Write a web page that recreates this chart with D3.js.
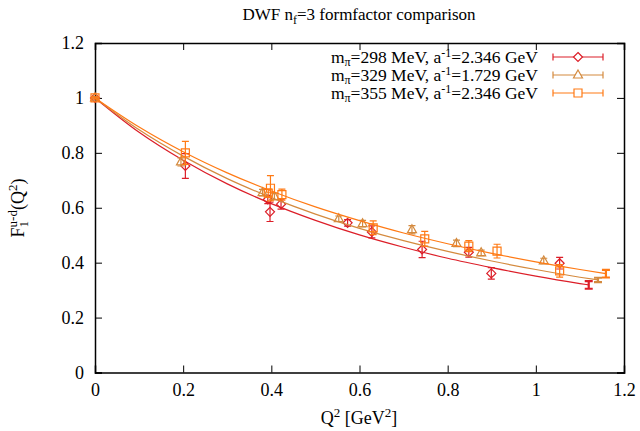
<!DOCTYPE html>
<html>
<head>
<meta charset="utf-8">
<title>DWF formfactor</title>
<script src="https://cdn.jsdelivr.net/npm/d3@7/dist/d3.min.js"></script>
<style>
  body { margin: 0; background: #fff; }
  text { font-family: "Liberation Serif", "Times New Roman", serif; fill: #000; }
</style>
</head>
<body>
<svg width="640" height="431"></svg>
<script>
// ---- data ----
var q2_298  = [0, 0.205, 0.392, 0.397, 0.422, 0.573, 0.628, 0.742, 0.848, 0.899, 1.054];
var ff_298  = [1.0, 0.752, 0.630, 0.585, 0.613, 0.545, 0.512, 0.448, 0.438, 0.361, 0.398];
var err_298 = [0.004, 0.045, 0.015, 0.035, 0.018, 0.012, 0.022, 0.030, 0.018, 0.021, 0.021];

var q2_329  = [0, 0.195, 0.380, 0.407, 0.553, 0.607, 0.719, 0.820, 0.876, 1.018];
var ff_329  = [1.0, 0.767, 0.655, 0.641, 0.560, 0.542, 0.520, 0.470, 0.436, 0.406];
var err_329 = [0.003, 0.015, 0.012, 0.012, 0.010, 0.012, 0.015, 0.012, 0.010, 0.010];

var q2_355  = [0, 0.205, 0.393, 0.398, 0.424, 0.631, 0.748, 0.848, 0.912, 1.054];
var ff_355  = [1.0, 0.800, 0.653, 0.671, 0.648, 0.527, 0.487, 0.460, 0.442, 0.370];
var err_355 = [0.004, 0.042, 0.015, 0.046, 0.020, 0.025, 0.027, 0.020, 0.025, 0.023];

// fit curves
var fitQ2     = [0, 0.1, 0.2, 0.3, 0.4, 0.5, 0.6, 0.7, 0.8, 0.9, 1.0, 1.1];
var fit_298   = [1, 0.875, 0.773, 0.687, 0.615, 0.554, 0.501, 0.456, 0.416, 0.382, 0.351, 0.324];
var fit_329   = [1, 0.884, 0.788, 0.706, 0.637, 0.577, 0.525, 0.480, 0.441, 0.406, 0.375, 0.347];
var fit_355   = [1, 0.894, 0.804, 0.727, 0.661, 0.603, 0.553, 0.508, 0.469, 0.434, 0.403, 0.375];
// end of each fit, with its error band
var endQ2  = [1.120, 1.141, 1.159];
var endFF  = [0.319, 0.337, 0.360];
var endErr = [0.014, 0.008, 0.014];

var xTicks = [0, 0.2, 0.4, 0.6, 0.8, 1, 1.2];
var yTicks = [0, 0.2, 0.4, 0.6, 0.8, 1, 1.2];

var colors  = ["#dc1e28", "#d48a3e", "#ff7a14"];
var labels  = [["298", "2.346"], ["329", "1.729"], ["355", "2.346"]];
var shapes  = ["diamond", "triangle", "square"];

var svg = d3.select("svg");

var x = d3.scaleLinear().domain([0, 1.2]).range([95, 624]);
var y = d3.scaleLinear().domain([0, 1.2]).range([372.5, 43]);

// axes, ticks pointing inwards
var fmt = d3.format("~g");
svg.append("g").attr("transform", "translate(0,372.5)")
   .call(d3.axisBottom(x).tickValues(xTicks).tickSize(-7).tickPadding(11).tickFormat(fmt));
svg.append("g").attr("transform", "translate(0,43)")
   .call(d3.axisTop(x).tickValues(xTicks).tickSize(-7).tickFormat(""));
svg.append("g").attr("transform", "translate(95,0)")
   .call(d3.axisLeft(y).tickValues(yTicks).tickSize(-7).tickPadding(11).tickFormat(fmt));
svg.append("g").attr("transform", "translate(624,0)")
   .call(d3.axisRight(y).tickValues(yTicks).tickSize(-7).tickFormat(""));

svg.selectAll(".domain").attr("stroke", "#000").attr("stroke-width", 1.5);
svg.selectAll(".tick line").attr("stroke", "#000");
svg.selectAll(".tick text").style("font-size", "18px")
   .style("font-family", "'Liberation Serif', serif");

// marker shapes
function marker(shape, cx, cy) {
  var s = 4;
  if (shape == "diamond")
    return "M" + cx + "," + (cy - s - 0.5) + "L" + (cx + s + 0.5) + "," + cy + "L" + cx + "," + (cy + s + 0.5) + "L" + (cx - s - 0.5) + "," + cy + "Z";
  if (shape == "triangle")
    return "M" + cx + "," + (cy - s - 1) + "L" + (cx + s + 0.5) + "," + (cy + s - 1) + "L" + (cx - s - 0.5) + "," + (cy + s - 1) + "Z";
  return "M" + (cx - s) + "," + (cy - s) + "h" + (2 * s) + "v" + (2 * s) + "h" + (-2 * s) + "Z";
}

var line = d3.line().curve(d3.curveMonotoneX)
  .x(function (d) { return x(d[0]); })
  .y(function (d) { return y(d[1]); });

var series = [
  { q: q2_298, f: ff_298, e: err_298, fit: fit_298 },
  { q: q2_329, f: ff_329, e: err_329, fit: fit_329 },
  { q: q2_355, f: ff_355, e: err_355, fit: fit_355 }
];

series.forEach(function (s, k) {
  var g = svg.append("g");
  var pts = fitQ2.map(function (q, i) { return [q, s.fit[i]]; });
  pts.push([endQ2[k], endFF[k]]);
  g.append("path").attr("d", line(pts))
    .attr("fill", "none").attr("stroke", colors[k]).attr("stroke-width", 1.2);

  // end error bar of the fit
  var ex = x(endQ2[k]), y1 = y(endFF[k] - endErr[k]), y2 = y(endFF[k] + endErr[k]);
  g.append("path")
    .attr("d", "M" + ex + "," + y1 + "V" + y2 + "M" + (ex - 4) + "," + y1 + "h8M" + (ex - 4) + "," + y2 + "h8")
    .attr("stroke", colors[k]).attr("stroke-width", 2.2).attr("fill", "none");

  // data with error bars
  var data = s.q.map(function (q, i) { return { q: q, f: s.f[i], e: s.e[i] }; });
  g.selectAll("path.err").data(data).enter().append("path")
    .attr("class", "err")
    .attr("d", function (d) {
      var cx = x(d.q), a = y(d.f - d.e), b = y(d.f + d.e);
      return "M" + cx + "," + a + "V" + b + "M" + (cx - 3.5) + "," + a + "h7M" + (cx - 3.5) + "," + b + "h7";
    })
    .attr("stroke", colors[k]).attr("stroke-width", 1.2).attr("fill", "none");
  g.selectAll("path.pt").data(data).enter().append("path")
    .attr("class", "pt")
    .attr("d", function (d) { return marker(shapes[k], x(d.q), y(d.f)); })
    .attr("stroke", colors[k]).attr("stroke-width", 1.2).attr("fill", "none");
});

// legend
labels.forEach(function (lab, k) {
  var ly = 57 + k * 18;
  var t = svg.append("text").attr("x", 538).attr("y", ly + 6)
    .attr("text-anchor", "end").style("font-size", "17.5px");
  t.append("tspan").text("m");
  t.append("tspan").attr("dy", 3).style("font-size", "12px").text("\u03c0");
  t.append("tspan").attr("dy", -3).text("=" + lab[0] + " MeV, a");
  t.append("tspan").attr("dy", -6).style("font-size", "12px").text("-1");
  t.append("tspan").attr("dy", 6).text("=" + lab[1] + " GeV");

  svg.append("path")
    .attr("d", "M553," + ly + "H603M553," + (ly - 3.5) + "v7M603," + (ly - 3.5) + "v7")
    .attr("stroke", colors[k]).attr("stroke-width", 1.2).attr("fill", "none");
  svg.append("path").attr("d", marker(shapes[k], 578, ly))
    .attr("stroke", colors[k]).attr("stroke-width", 1.2).attr("fill", "#fff");
});

// title
var title = svg.append("text").attr("x", 359).attr("y", 20)
  .attr("text-anchor", "middle").style("font-size", "17px");
title.append("tspan").text("DWF n");
title.append("tspan").attr("dy", 4).style("font-size", "12px").text("f");
title.append("tspan").attr("dy", -4).text("=3 formfactor comparison");

// x label
var xl = svg.append("text").attr("x", 359).attr("y", 424)
  .attr("text-anchor", "middle").style("font-size", "18px");
xl.append("tspan").text("Q");
xl.append("tspan").attr("dy", -7).style("font-size", "13px").text("2");
xl.append("tspan").attr("dy", 7).text(" [GeV");
xl.append("tspan").attr("dy", -7).style("font-size", "13px").text("2");
xl.append("tspan").attr("dy", 7).text("]");

// y label
var yl = svg.append("text").attr("transform", "translate(24,208) rotate(-90)")
  .attr("text-anchor", "middle").style("font-size", "18px");
yl.append("tspan").text("F");
yl.append("tspan").attr("dy", 4).style("font-size", "13px").text("1");
yl.append("tspan").attr("dx", -6.5).attr("dy", -11).style("font-size", "13px").text("u-d");
yl.append("tspan").attr("dy", 7).text("(Q");
yl.append("tspan").attr("dy", -7).style("font-size", "13px").text("2");
yl.append("tspan").attr("dy", 7).text(")");
</script>
</body>
</html>
